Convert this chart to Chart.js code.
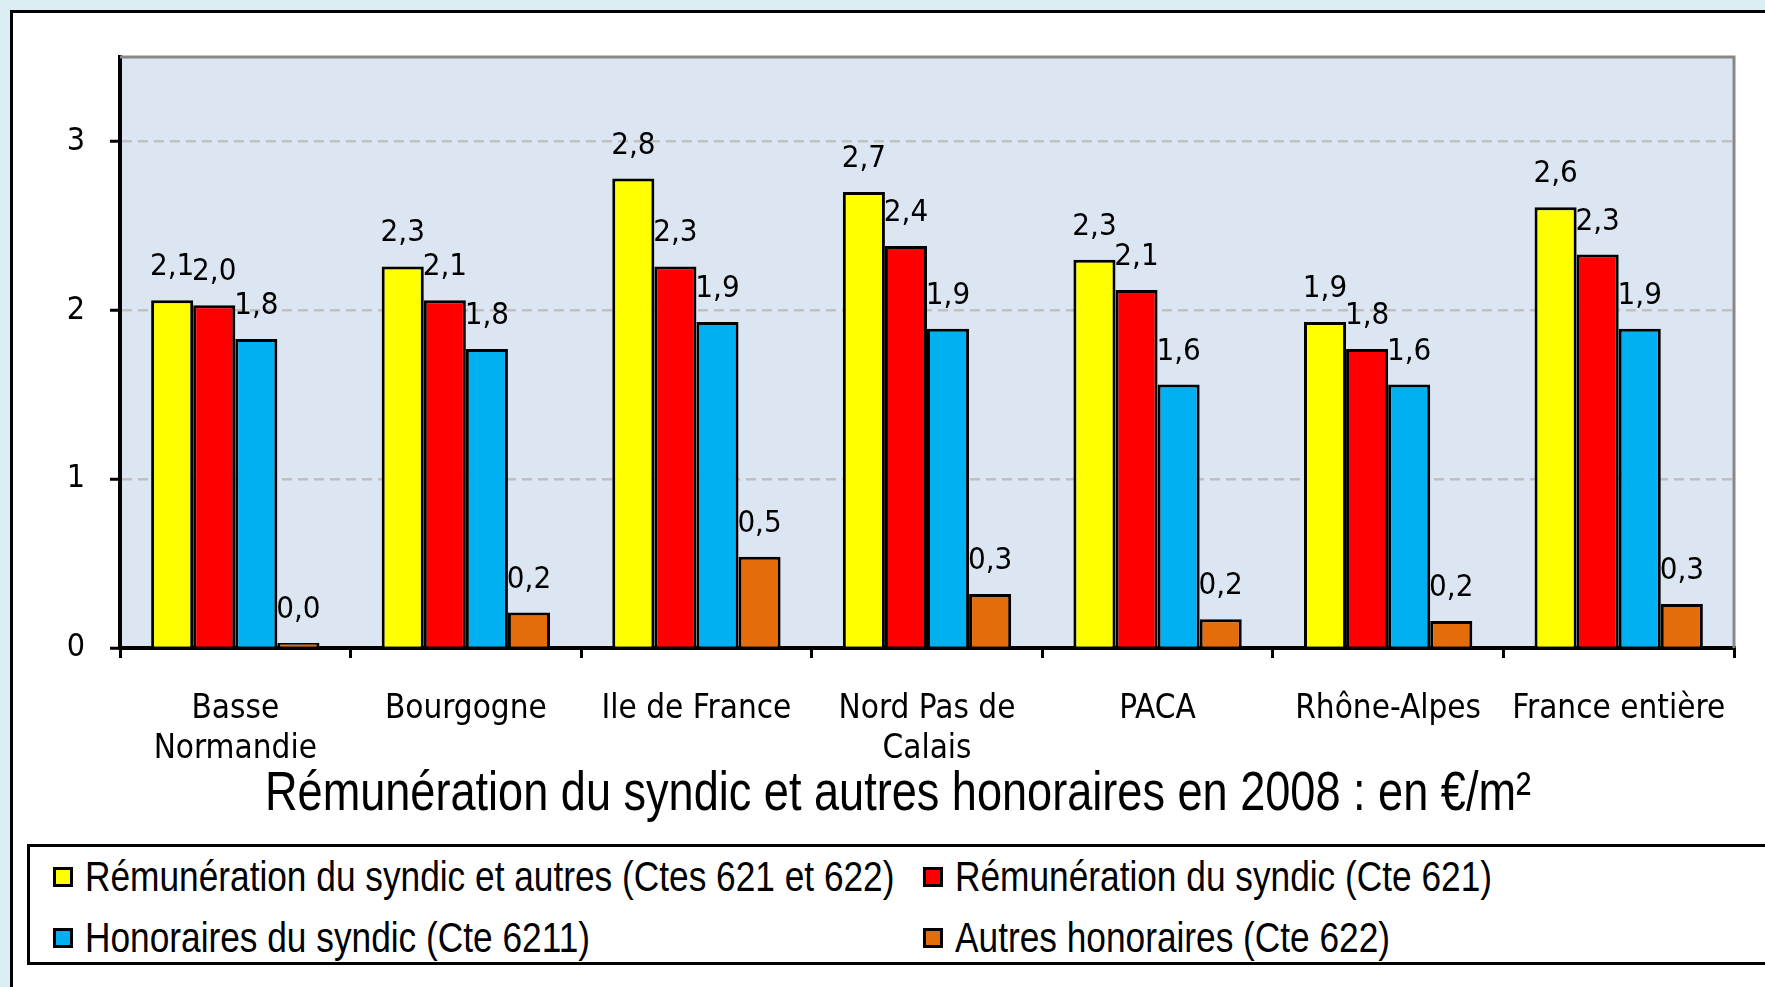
<!DOCTYPE html>
<html lang="fr">
<head>
<meta charset="utf-8">
<title>Rémunération du syndic et autres honoraires en 2008</title>
<script src="https://cdn.jsdelivr.net/npm/chart.js@4.4.1/dist/chart.umd.min.js"></script>
<style>
  html, body { margin: 0; padding: 0; width: 1765px; height: 987px; overflow: hidden; background: #dbeef3; }
  #frame { position: absolute; left: 10px; top: 10px; width: 1800px; height: 1000px; background: #fff; border: 3px solid #000; box-sizing: border-box; }
  #chart { position: absolute; left: 0; top: 0; }
  /* pas de police "narrow" installée : Liberation Sans compressée horizontalement */
  #title { position: absolute; left: 898px; top: 764px; transform: translateX(-50%) scaleX(0.82); white-space: nowrap;
           font-family: 'Liberation Sans', Arial, sans-serif; font-size: 55px; line-height: 55px; color: #000; }
  #legend { position: absolute; left: 27px; top: 844px; width: 1800px; height: 121px; border: 3px solid #000; box-sizing: border-box; background: #fff; }
  .item { position: absolute; display: flex; align-items: center; white-space: nowrap;
          font-family: 'Liberation Sans', Arial, sans-serif; font-size: 43px; line-height: 43px; color: #000; }
  .item span.box { width: 20px; height: 20px; border: 3px solid #000; box-sizing: border-box; margin-right: 12px; flex: none; }
  .item span.txt { display: inline-block; transform: scaleX(0.82); transform-origin: 0 50%; }
  .c0 { left: 23px; } .c1 { left: 893px; }
  .r0 { top: 8px; } .r1 { top: 69px; }
</style>
</head>
<body>
<div id="frame"></div>
<canvas id="chart" width="1765" height="987"></canvas>
<div id="title">Rémunération du syndic et autres honoraires en 2008 : en €/m²</div>
<div id="legend"></div>
<script>
// données (€/m²)
const categories = [["Basse", "Normandie"], "Bourgogne", "Ile de France", ["Nord Pas de", "Calais"], "PACA", "Rhône-Alpes", "France entière"];
const seriesNames = [
    "Rémunération du syndic et autres (Ctes 621 et 622)",
    "Rémunération du syndic (Cte 621)",
    "Honoraires du syndic (Cte 6211)",
    "Autres honoraires (Cte 622)"
];
const seriesColors = ["#ffff00", "#ff0000", "#00b0f0", "#e46c0a"];
const remunerationEtAutres = [2.06, 2.26, 2.78, 2.70, 2.30, 1.93, 2.61];
const remunerationSyndic = [2.03, 2.06, 2.26, 2.38, 2.12, 1.77, 2.33];
const honorairesSyndic = [1.83, 1.77, 1.93, 1.89, 1.56, 1.56, 1.89];
const autresHonoraires = [0.03, 0.21, 0.54, 0.32, 0.17, 0.16, 0.26];
const yTicks = [0, 1, 2, 3];

const seriesValues = [remunerationEtAutres, remunerationSyndic, honorairesSyndic, autresHonoraires];
const fmt = new Intl.NumberFormat("fr-FR", { minimumFractionDigits: 1, maximumFractionDigits: 1 });
const chartFont = "'DejaVu Sans Condensed', 'DejaVu Sans', sans-serif";

// fond de la zone de traçage + bordure grise haut/droite
const plotBackground = {
    id: "plotBackground",
    beforeDraw(chart) {
        const { ctx, chartArea: a } = chart;
        ctx.save();
        ctx.fillStyle = "#dce6f2";
        ctx.fillRect(a.left, a.top, a.right - a.left, a.bottom - a.top);
        ctx.restore();
    },
    beforeDatasetsDraw(chart) {
        const { ctx, chartArea: a } = chart;
        ctx.save();
        ctx.strokeStyle = "#878787";
        ctx.lineWidth = 3;
        ctx.beginPath();
        ctx.moveTo(a.left, a.top);
        ctx.lineTo(a.right, a.top);
        ctx.lineTo(a.right, a.bottom);
        ctx.stroke();
        ctx.restore();
    }
};

// étiquettes de valeurs au-dessus des barres
const barLabels = {
    id: "barLabels",
    afterDatasetsDraw(chart) {
        const ctx = chart.ctx;
        ctx.save();
        ctx.font = "31px " + chartFont;
        ctx.fillStyle = "#000";
        ctx.textAlign = "center";
        ctx.textBaseline = "alphabetic";
        chart.data.datasets.forEach((ds, i) => {
            chart.getDatasetMeta(i).data.forEach((bar, j) => {
                ctx.fillText(fmt.format(ds.data[j]), bar.x, bar.y - 25);
            });
        });
        ctx.restore();
    }
};

new Chart(document.getElementById("chart"), {
    type: "bar",
    data: {
        labels: categories,
        datasets: seriesValues.map((vals, i) => ({
            label: seriesNames[i],
            data: vals,
            backgroundColor: seriesColors[i],
            borderColor: "#000",
            borderWidth: 3,
            categoryPercentage: 0.73,
            barPercentage: 1.0
        }))
    },
    options: {
        responsive: false,
        animation: false,
        devicePixelRatio: 1,
        layout: { padding: { left: 0, top: 57, right: 31, bottom: 189 } },
        plugins: {
            legend: { display: false },
            title: { display: false },
            tooltip: { enabled: false }
        },
        scales: {
            x: {
                afterFit: s => { s.height = 150; },
                ticks: {
                    color: "#000",
                    font: { family: chartFont, size: 33, lineHeight: "40px" },
                    padding: 31,
                    maxRotation: 0,
                    autoSkip: false
                },
                grid: { offset: true, drawOnChartArea: false, tickColor: "#000", tickWidth: 3, tickLength: 10, lineWidth: 3 },
                border: { color: "#000", width: 4 }
            },
            y: {
                min: 0,
                max: 3.5,
                afterFit: s => { s.width = 120; },
                ticks: {
                    stepSize: 1,
                    includeBounds: false,
                    padding: 25,
                    color: "#000",
                    font: { family: chartFont, size: 32 },
                    callback: v => yTicks.includes(v) ? String(v) : ""
                },
                grid: { color: "#c0c0c0", lineWidth: 2.5, tickColor: "#000", tickWidth: 3, tickLength: 10 },
                border: { color: "#000", width: 4, dash: [10, 6] }
            }
        }
    },
    plugins: [plotBackground, barLabels]
});

// légende
const legend = document.getElementById("legend");
seriesNames.forEach((name, i) => {
    const item = document.createElement("div");
    item.className = "item c" + (i % 2) + " r" + Math.floor(i / 2);
    const box = document.createElement("span");
    box.className = "box";
    box.style.background = seriesColors[i];
    const txt = document.createElement("span");
    txt.className = "txt";
    txt.textContent = name;
    item.appendChild(box);
    item.appendChild(txt);
    legend.appendChild(item);
});
</script>
</body>
</html>
